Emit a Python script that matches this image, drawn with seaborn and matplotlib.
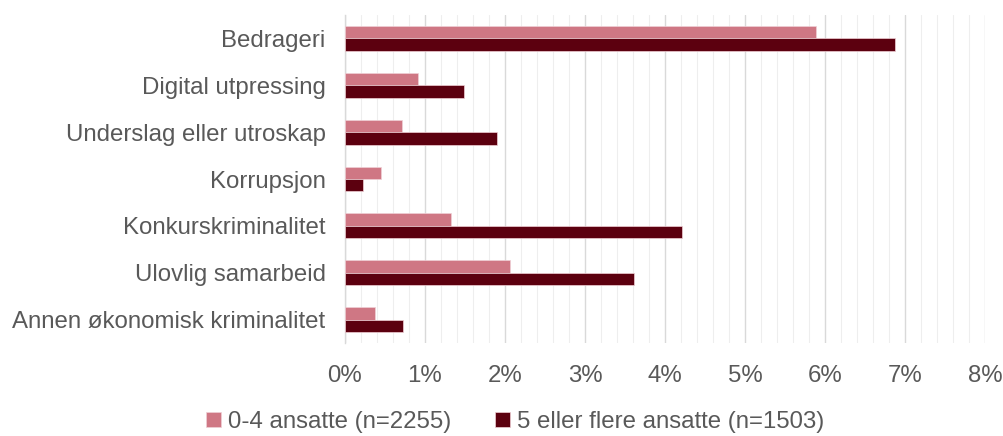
import matplotlib
matplotlib.use("Agg")
import matplotlib.pyplot as plt
import pandas as pd
import seaborn as sns
from matplotlib.ticker import MultipleLocator, FuncFormatter

# Data (share of companies, %)
categories = ['Bedrageri', 'Digital utpressing', 'Underslag eller utroskap', 'Korrupsjon',
              'Konkurskriminalitet', 'Ulovlig samarbeid', 'Annen økonomisk kriminalitet']
small = [5.89, 0.91, 0.71, 0.45, 1.32, 2.06, 0.38]
large = [6.88, 1.49, 1.90, 0.22, 4.21, 3.61, 0.73]
series = ['0-4 ansatte (n=2255)', '5 eller flere ansatte (n=1503)']

df = pd.DataFrame({
    'kategori': categories * 2,
    'andel': small + large,
    'gruppe': [series[0]] * len(categories) + [series[1]] * len(categories),
})

sns.set_style('white')
plt.rcParams['font.family'] = ['Liberation Sans', 'DejaVu Sans']
text_col = '#595959'
fs = 17.3

fig = plt.figure(figsize=(10.04, 4.36), dpi=100)
ax = fig.add_axes([345 / 1004, 1 - 343 / 436, 640 / 1004, 328 / 436])

sns.barplot(data=df, x='andel', y='kategori', hue='gruppe', hue_order=series,
            palette=['#CF7784', '#5C000F'], saturation=1, orient='h', width=0.53, gap=0,
            edgecolor='#f0d0d6', linewidth=0.5, ax=ax, zorder=3)

ax.set_xlim(0, 8)
ax.set_ylim(6.5, -0.5)
ax.xaxis.set_major_locator(MultipleLocator(1))
ax.xaxis.set_minor_locator(MultipleLocator(0.2))
ax.xaxis.set_major_formatter(FuncFormatter(lambda v, p: f'{v:.0f}%'))
ax.grid(axis='x', which='major', color='#d9d9d9', linewidth=1.0, zorder=0)
ax.grid(axis='x', which='minor', color='#eeeeee', linewidth=0.8, zorder=0)
ax.set_axisbelow(True)

ax.set_yticks(range(len(categories)))
ax.set_yticks([i - 0.5 for i in range(len(categories) + 1)], minor=True)
ax.tick_params(axis='y', which='major', length=0, pad=14, labelsize=fs, labelcolor=text_col)
ax.tick_params(axis='y', which='minor', length=5, width=1, color='#d9d9d9', direction='out')
ax.tick_params(axis='x', which='both', length=0, pad=16, labelsize=fs, labelcolor=text_col)

for side in ['top', 'right', 'bottom']:
    ax.spines[side].set_visible(False)
ax.spines['left'].set_color('#d9d9d9')
ax.spines['left'].set_linewidth(1)

ax.set_xlabel('')
ax.set_ylabel('')

ax.legend(loc='center', bbox_to_anchor=(0.266, -0.24),
          ncol=2, frameon=False, fontsize=fs, labelcolor=text_col,
          handlelength=0.6, handleheight=0.6, handletextpad=0.3, columnspacing=1.85)

fig.savefig('out.png', dpi=100)
